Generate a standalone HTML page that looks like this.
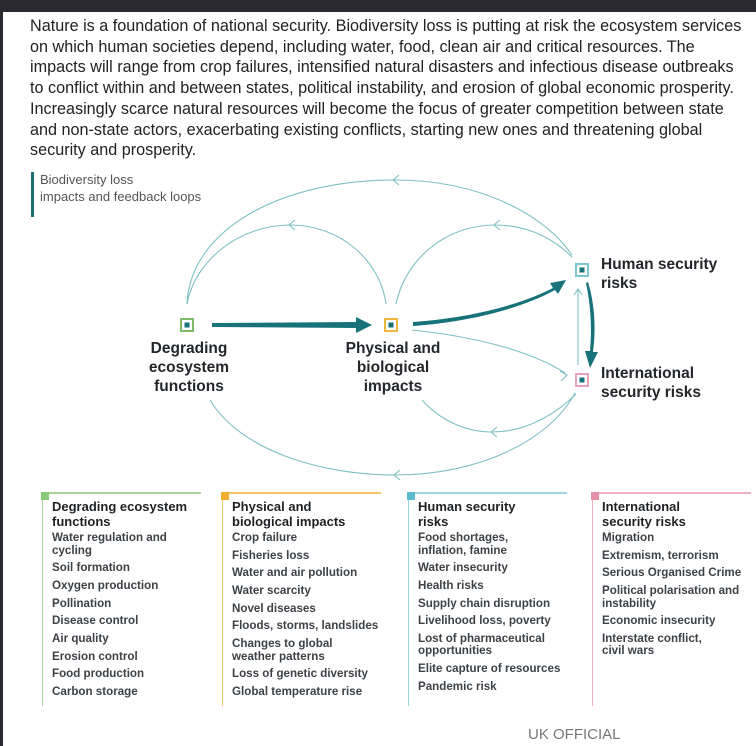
<!DOCTYPE html>
<html><head><meta charset="utf-8"><style>
*{margin:0;padding:0;box-sizing:border-box}
body{width:756px;height:746px;background:#2b2a33;position:relative;overflow:hidden;font-family:"Liberation Sans",sans-serif;}
#pg{position:absolute;left:3px;top:12px;width:753px;height:734px;background:#fff;}
.intro{position:absolute;left:27px;top:4px;width:719px;font-size:16.2px;line-height:20.7px;color:#222;}
.lg{position:absolute;left:28px;top:160px;border-left:3px solid #1c6f73;padding-left:6px;font-size:13px;line-height:16.5px;color:#555;height:45px}
svg{position:absolute;left:0;top:0}
.col{position:absolute;top:480px;height:214px;border-left:1.5px solid;font-size:11.6px;color:#3d4247;font-weight:bold;padding-left:9px}
.col .t{position:absolute;left:-2px;top:0;height:1.5px}
.col .sq{position:absolute;left:-2px;top:0;width:8px;height:8px}
.col h3{font-size:13px;line-height:14.5px;color:#1e2124;margin-top:8px;margin-bottom:3px}
.col div.i{line-height:12.5px;margin-bottom:5.2px}
.uk{position:absolute;left:525px;top:714px;font-size:15px;color:#777}
</style></head><body><div id="pg">
<div class="intro">Nature is a foundation of national security. Biodiversity loss is putting at risk the ecosystem services on which human societies depend, including water, food, clean air and critical resources. The impacts will range from crop failures, intensified natural disasters and infectious disease outbreaks to conflict within and between states, political instability, and erosion of global economic prosperity. Increasingly scarce natural resources will become the focus of greater competition between state and non-state actors, exacerbating existing conflicts, starting new ones and threatening global security and prosperity.</div>
<div class="lg">Biodiversity loss<br>impacts and feedback loops</div>
<svg width="753" height="734" viewBox="3 12 753 734">
<g fill="none" stroke="#7fc0c3" stroke-width="1.1">
<path d="M187,304 C190,230 280,180 395,180 C480,180 545,215 572,255"/>
<path d="M187,304 C195,260 240,225 290,225 C340,225 380,260 386,304"/>
<path d="M396,304 C405,260 445,225 495,225 C535,225 560,245 572,257"/>
<path d="M210,400 C240,450 320,475 395,475 C480,475 550,440 575,393"/>
<path d="M422,400 C440,420 465,432 492,432 C530,432 560,410 576,394"/>
<path d="M412,330 C470,336 530,350 565,373"/>
<path d="M578,365 L578,290"/>
<path d="M399,175 L393,180 L399,185 M295,220 L289,225 L295,230 M500,220 L494,225 L500,230 M400,470 L394,475 L400,480 M497,427 L491,432 L497,437 M574,295 L578,289 L582,295 M560,371 L567,375 L561,381"/>
</g>
<g fill="#17727a">
<path d="M212,323 L356,322 L356,317 L372,325 L356,333 L356,328 L212,327 Z"/>
<path d="M413,322 C470,318 520,305 553,288 L550,283 L566,280 L558,294 L555,290 C522,308 470,322 413,326 Z"/>
<path d="M588,282 C595,305 596,330 593,352 L598,352 L590,368 L585,351 L590,351 C592,330 591,306 586,283 Z"/>
</g>
<g stroke-width="2" fill="#fff">
<rect x="181" y="319" width="12" height="12" stroke="#7bbd6a"/>
<rect x="385" y="319" width="12" height="12" stroke="#eeb63a"/>
<rect x="576" y="264" width="12" height="12" stroke="#7cc7d0"/>
<rect x="576" y="374" width="12" height="12" stroke="#e8a3b8"/>
</g>
<g fill="#17727a"><rect x="184.5" y="322.5" width="5" height="5"/><rect x="388.5" y="322.5" width="5" height="5"/><rect x="579.5" y="267.5" width="5" height="5"/><rect x="579.5" y="377.5" width="5" height="5"/></g>
<g font-family="Liberation Sans,sans-serif" font-weight="bold" font-size="15.5" fill="#23272b" text-anchor="middle">
<text x="189" y="353">Degrading</text><text x="189" y="372">ecosystem</text><text x="189" y="391">functions</text>
<text x="393" y="353">Physical and</text><text x="393" y="372">biological</text><text x="393" y="391">impacts</text>
<text x="601" y="269" text-anchor="start">Human security</text><text x="601" y="288" text-anchor="start">risks</text>
<text x="601" y="378" text-anchor="start">International</text><text x="601" y="397" text-anchor="start">security risks</text>
</g>
</svg>
<div class="col" style="left:39px;border-color:#a6d398"><div class="t" style="width:160px;background:#a6d398"></div><div class="sq" style="background:#8cc97a"></div>
<h3>Degrading ecosystem<br>functions</h3>
<div class="i">Water regulation and<br>cycling</div><div class="i">Soil formation</div><div class="i">Oxygen production</div><div class="i">Pollination</div><div class="i">Disease control</div><div class="i">Air quality</div><div class="i">Erosion control</div><div class="i">Food production</div><div class="i">Carbon storage</div></div>
<div class="col" style="left:219px;border-color:#f3c669"><div class="t" style="width:160px;background:#f3c669"></div><div class="sq" style="background:#f0ad2e"></div>
<h3>Physical and<br>biological impacts</h3>
<div class="i">Crop failure</div><div class="i">Fisheries loss</div><div class="i">Water and air pollution</div><div class="i">Water scarcity</div><div class="i">Novel diseases</div><div class="i">Floods, storms, landslides</div><div class="i">Changes to global<br>weather patterns</div><div class="i">Loss of genetic diversity</div><div class="i">Global temperature rise</div></div>
<div class="col" style="left:405px;border-color:#9fd6de"><div class="t" style="width:160px;background:#9fd6de"></div><div class="sq" style="background:#5bbccb"></div>
<h3>Human security<br>risks</h3>
<div class="i">Food shortages,<br>inflation, famine</div><div class="i">Water insecurity</div><div class="i">Health risks</div><div class="i">Supply chain disruption</div><div class="i">Livelihood loss, poverty</div><div class="i">Lost of pharmaceutical<br>opportunities</div><div class="i">Elite capture of resources</div><div class="i">Pandemic risk</div></div>
<div class="col" style="left:589px;border-color:#eeb0c2"><div class="t" style="width:160px;background:#eeb0c2"></div><div class="sq" style="background:#e890a9"></div>
<h3>International<br>security risks</h3>
<div class="i">Migration</div><div class="i">Extremism, terrorism</div><div class="i">Serious Organised Crime</div><div class="i">Political polarisation and<br>instability</div><div class="i">Economic insecurity</div><div class="i">Interstate conflict,<br>civil wars</div></div>
<div class="uk">UK OFFICIAL</div>
</div></body></html>
